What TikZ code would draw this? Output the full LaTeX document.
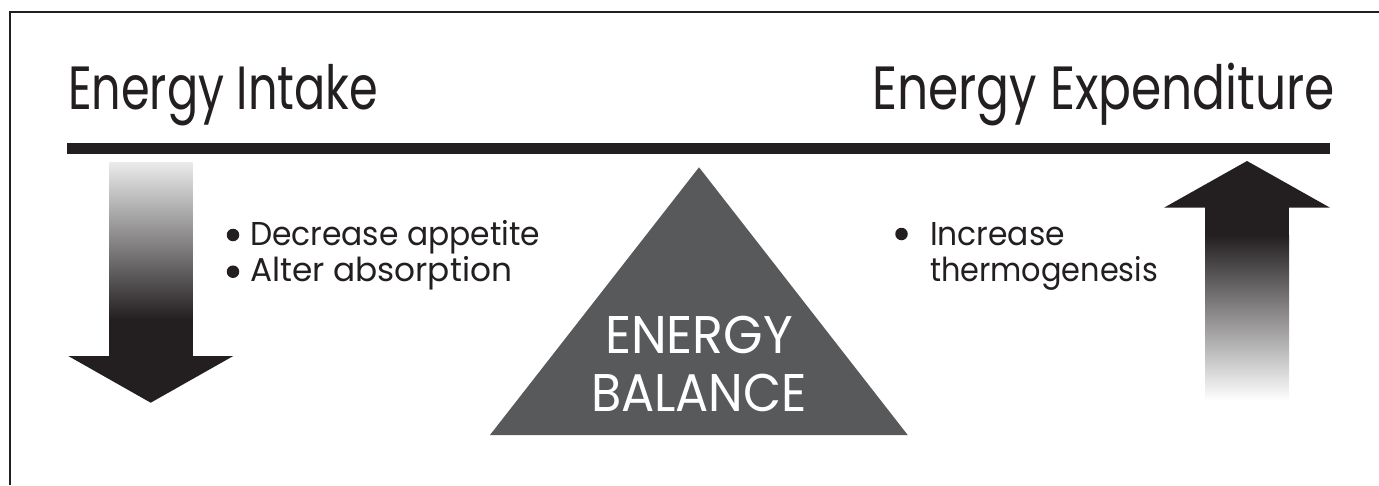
\documentclass[tikz,border=0pt]{standalone}
\usepackage{fontspec}
\setmainfont{Poppins}
\usepackage{graphicx}
\definecolor{ink}{HTML}{231F20}
\definecolor{tri}{HTML}{58595B}
\newcommand{\fitto}[2]{\resizebox{#1}{\height}{#2}}
\begin{document}
\begin{tikzpicture}[x=1pt,y=-1pt,
  txt/.style={inner sep=0pt, outer sep=0pt, anchor=base west, text=ink},
  title/.style={txt, font=\fontsize{61}{70}\selectfont},
  item/.style={txt, font=\fontsize{33}{40}\selectfont},
  tritxt/.style={inner sep=0pt, outer sep=0pt, anchor=base, text=white, font=\fontsize{53}{60}\selectfont},
  bullet/.style={circle, fill=ink, inner sep=0pt, minimum size=12.5pt}]
\useasboundingbox (0,0) rectangle (1379,485);
\fill[white] (0,0) rectangle (1379,485);
% frame
\draw[ink, line width=1.5pt] (10,485) -- (10,12) -- (1379,12);
% titles
\node[title] (intake) at (68,109) {\fitto{310pt}{Energy Intake}};
\node[title] (expend) at (872,109) {\fitto{463pt}{Energy Expenditure}};
% bar
\fill[ink] (67,143) rectangle (1330,154.3);
% down arrow
\shade[top color=white!92!black, bottom color=ink] (109.3,162) rectangle (192.7,320);
\fill[ink] (109.3,319) rectangle (192.7,356.5);
\fill[ink] (68.3,356) -- (233.3,356) -- (150.7,402.7) -- cycle;
% up arrow
\fill[ink] (1164,207.7) -- (1330,207.7) -- (1247,161) -- cycle;
\fill[ink] (1205,207) rectangle (1289,236);
\shade[top color=ink, bottom color=white] (1205,235) rectangle (1289,401);
% triangle
\fill[tri] (490,435) -- (907.7,435) -- (699,167.3) -- cycle;
\node[tritxt] (eb1) at (699,353.3) {\fitto{188pt}{ENERGY}};
\node[tritxt] (eb2) at (699,411.7) {\fitto{216pt}{BALANCE}};
% left bullets
\node[bullet] (b1) at (233,235) {};
\node[bullet] (b2) at (233,271.7) {};
\node[item] (i1) at (250,245) {\fitto{290pt}{Decrease appetite}};
\node[item] (i2) at (250,281.7) {\fitto{262pt}{Alter absorption}};
% right bullet
\node[bullet] (b3) at (901.5,234) {};
\node[item] (i3) at (930,245) {\fitto{135pt}{Increase}};
\node[item] (i4) at (930,281.7) {\fitto{228pt}{thermogenesis}};
\end{tikzpicture}
\end{document}
